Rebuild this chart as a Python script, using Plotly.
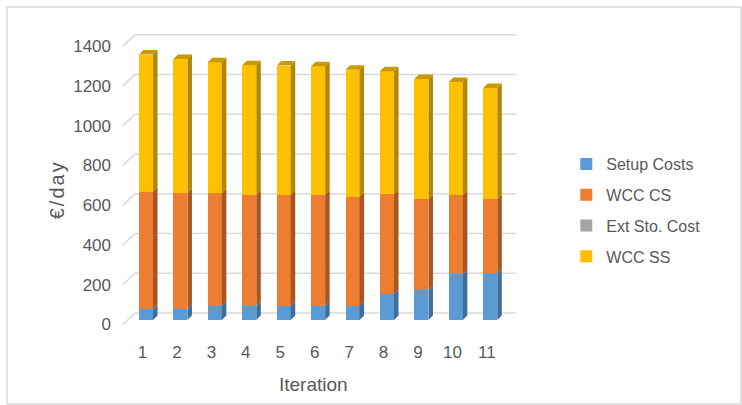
import plotly.graph_objects as go

# ---- data -------------------------------------------------------------
iterations = list(range(1, 12))
setup_costs = [55, 55, 72, 72, 72, 72, 72, 132, 150, 230, 235]
wcc_cs = [591, 583, 566, 558, 558, 558, 549, 501, 458, 398, 375]
ext_sto_cost = [0, 0, 0, 0, 0, 0, 0, 0, 0, 0, 0]
wcc_ss = [689, 675, 658, 651, 650, 646, 638, 618, 604, 569, 557]
y_ticks = [0, 200, 400, 600, 800, 1000, 1200, 1400]

series = [
    ("Setup Costs", setup_costs, "#5B9BD5", "#3F6E9C"),
    ("WCC CS", wcc_cs, "#ED7D31", "#A9561F"),
    ("Ext Sto. Cost", ext_sto_cost, "#A5A5A5", "#767676"),
    ("WCC SS", wcc_ss, "#FFC000", "#B38600"),
]
TOP_FACE = "#C99A00"

# ---- pseudo-3D geometry (data units) ----------------------------------
BAR_W = 0.407      # front face width
DX = 0.131         # depth offset along x
DY = 22.6          # depth offset along y
BACK_Y = 35.2      # back wall offset of the gridlines
FRONT_Y = -22.6    # front plane (tick labels / floor edge)
X_FLOOR_FRONT = 0.332
X_WALL = 0.680
X_WALL_END = 11.746

TEXT = "#595959"
FONT = "Liberation Sans"

fig = go.Figure()

# front faces: ordinary stacked bars
for name, vals, col, _ in series:
    fig.add_trace(go.Bar(
        x=iterations, y=vals, name=name, width=BAR_W,
        marker=dict(color=col, line=dict(width=0)),
        legendgroup=name, hoverinfo="skip",
    ))

# side faces (and top face of the highest segment) built from the same values
base = [0.0] * len(iterations)
for k, (name, vals, col, side) in enumerate(series):
    xs, ys = [], []
    for i, x in enumerate(iterations):
        b, t = base[i], base[i] + vals[i]
        if vals[i] > 0:
            xr = x + BAR_W / 2
            xs += [xr, xr + DX, xr + DX, xr, xr, None]
            ys += [b, b + DY, t + DY, t, b, None]
    if xs:
        fig.add_trace(go.Scatter(
            x=xs, y=ys, mode="lines", fill="toself", fillcolor=side,
            line=dict(width=0, color=side), showlegend=False,
            hoverinfo="skip",
        ))
    base = [base[i] + vals[i] for i in range(len(iterations))]

tx, ty = [], []
for i, x in enumerate(iterations):
    xl, xr, t = x - BAR_W / 2, x + BAR_W / 2, base[i]
    tx += [xl, xl + DX, xr + DX, xr, xl, None]
    ty += [t, t + DY, t + DY, t, t, None]
fig.add_trace(go.Scatter(
    x=tx, y=ty, mode="lines", fill="toself", fillcolor=TOP_FACE,
    line=dict(width=0, color=TOP_FACE), showlegend=False, hoverinfo="skip",
))

# back-wall gridlines with their floor diagonals
shapes = []
for v in y_ticks:
    shapes.append(dict(type="line", xref="x", yref="y", layer="below",
                       x0=X_WALL, x1=X_WALL_END, y0=v + BACK_Y, y1=v + BACK_Y,
                       line=dict(color="#D9D9D9", width=1.6)))
    shapes.append(dict(type="line", xref="x", yref="y", layer="below",
                       x0=X_FLOOR_FRONT, x1=X_WALL, y0=v + FRONT_Y, y1=v + BACK_Y,
                       line=dict(color="#D9D9D9", width=1.6)))

# outer chart frame
shapes.append(dict(type="rect", xref="paper", yref="paper",
                   x0=-0.254, x1=1.523, y0=-0.2426, y1=1.059,
                   line=dict(color="#D9D9D9", width=1.5)))

fig.update_layout(
    width=742, height=405,
    margin=dict(l=112, r=217, t=25, b=75),
    paper_bgcolor="white", plot_bgcolor="white",
    barmode="stack", bargap=0,
    shapes=shapes,
    font=dict(family=FONT, color=TEXT),
    xaxis=dict(
        range=[0.0125, 12.008], showgrid=False, zeroline=False, showline=False,
        tickvals=[x - 0.1 for x in iterations],
        ticktext=[str(x) for x in iterations],
        ticks="", ticklabelstandoff=10,
        tickfont=dict(size=17, color=TEXT, family=FONT),
    ),
    yaxis=dict(
        range=[-50.3, 1483.9], showgrid=False, zeroline=False, showline=False,
        tickvals=[v + FRONT_Y for v in y_ticks],
        ticktext=[str(v) for v in y_ticks],
        ticks="",
        tickfont=dict(size=17, color=TEXT, family=FONT),
    ),
    legend=dict(
        x=1.10, y=0.60, xanchor="left", yanchor="top",
        traceorder="grouped", tracegroupgap=7,
        font=dict(size=16, color=TEXT, family=FONT),
        itemwidth=30, bgcolor="rgba(0,0,0,0)",
    ),
    annotations=[
        dict(text='<span style="letter-spacing:2px">€/day</span>',
             xref="paper", yref="paper", x=-0.1325, y=0.459,
             xanchor="center", yanchor="middle",
             textangle=-90, showarrow=False,
             font=dict(size=20, color=TEXT, family=FONT)),
        dict(text="Iteration", xref="paper", yref="paper",
             x=0.487, y=-0.18, xanchor="center", yanchor="middle",
             showarrow=False,
             font=dict(size=19, color=TEXT, family=FONT)),
    ],
)

fig.write_html("out.html")
